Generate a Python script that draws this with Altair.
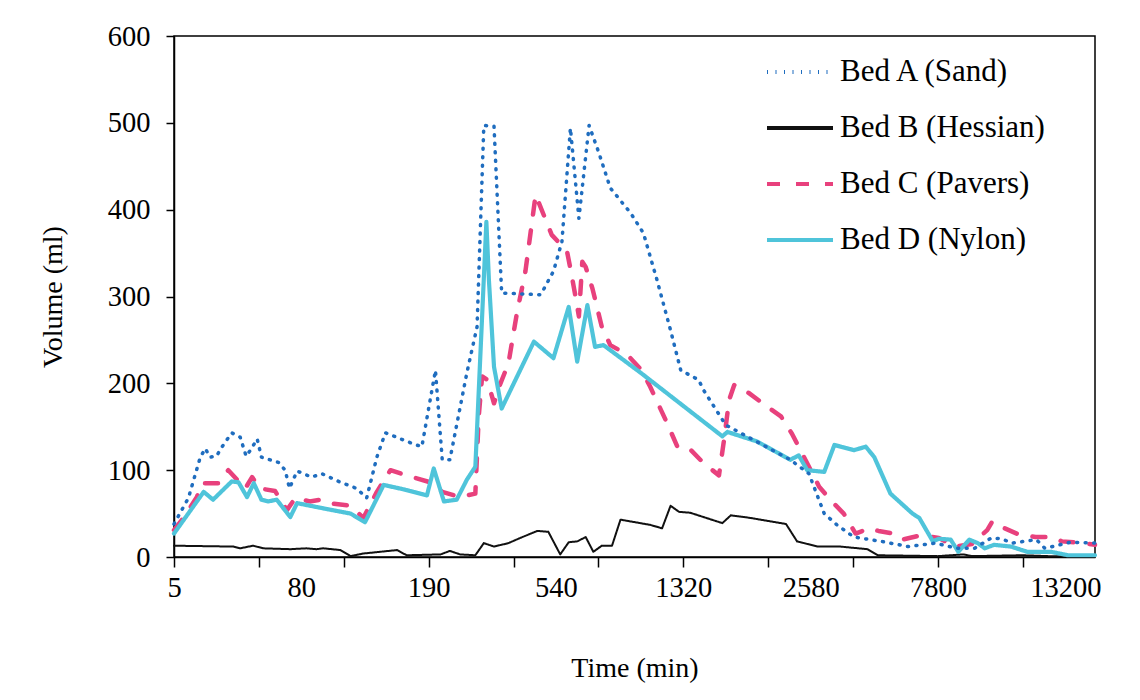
import altair as alt
import pandas as pd

# ---- data ----
TICK_LABELS = ["5", "80", "190", "540", "1320", "2580", "7800", "13200"]
LABEL_STEP = 15   # categories between labelled ticks
TICK_STEP = 10    # categories between tick marks

SERIES = ["Bed A (Sand)", "Bed B (Hessian)", "Bed C (Pavers)", "Bed D (Nylon)"]
COLORS = ["#1f6dbf", "#111111", "#e8417d", "#4fc4da"]

A_X = [0, 1.7, 3.1, 3.7, 4.2, 5.0, 5.6, 6.8, 7.8, 8.5, 9.0, 9.8, 10.3, 12.3, 13.1, 13.6, 14.5,
       16.2, 17.4, 19.4, 21.5, 22.7, 23.9, 24.9, 28.0, 29.2, 30.8, 31.6, 32.5, 34.5, 35.7, 36.5,
       37.7, 38.6, 43.2, 44.7, 45.7, 46.7, 47.7, 48.9, 50.0, 51.4, 53.8, 55.3, 56.9, 58.5, 59.7,
       61.8, 62.4, 65.0, 72.6, 74.8, 76.6, 78.1, 80.1, 83.3, 86.5, 89.7, 92.2, 94.3, 96.3, 97.5,
       98.7, 101.6, 102.6, 105.6, 108.5]
A_Y = [38, 68, 115, 125, 115, 116, 126, 143, 138, 116, 123, 136, 115, 109, 100, 79, 99,
       92, 96, 87, 79, 68, 115, 143, 131, 127, 215, 112, 112, 212, 265, 497,
       496, 304, 302, 329, 363, 494, 390, 497, 467, 425, 396, 373, 319, 261, 215,
       204, 192, 152, 112, 96, 50, 37, 23, 18, 12, 16, 10, 10, 22, 21,
       16, 20, 10, 17, 16]

B_X = [0, 7, 7.8, 9.3, 10.5, 13.7, 15.6, 16.8, 17.6, 19.6, 20.8, 22.3, 26.3, 27.4, 31.4, 32.5,
       33.7, 35.5, 36.5, 37.7, 39.4, 40.8, 42.8, 44.1, 45.5, 46.5, 47.5, 48.5, 49.4, 50.4, 51.6,
       52.6, 56.1, 57.5, 58.5, 59.5, 60.8, 64.6, 65.6, 67.9, 72.1, 73.4, 75.8, 78.5, 81.7, 82.9,
       90, 93, 94, 100, 103, 108.5]
B_Y = [13, 12, 10, 13, 10, 9, 10, 9, 10, 8, 1, 4, 8, 2, 3, 7,
       3, 2, 16, 12, 16, 22, 30, 29, 3, 17, 18, 23, 6, 13, 13,
       43, 37, 33, 59, 52, 51, 39, 48, 45, 38, 18, 12, 12, 9, 2,
       1, 3, 1, 2, 1, 1]

C_X = [0, 1.1, 2.7, 3.3, 5.2, 6.4, 8.0, 8.4, 9.2, 10.1, 11.9, 13.3, 14.3, 16.0, 17.2, 18.2,
       20.8, 22.3, 23.9, 25.5, 27.4, 30.2, 31.6, 33.7, 35.5, 35.9, 36.3, 36.9, 37.7, 38.3, 39.4,
       40.4, 41.4, 42.0, 42.6, 43.8, 44.5, 46.3, 46.7, 47.3, 47.7, 48.1, 48.5, 49.3, 50.4, 51.4,
       53.4, 55.1, 56.1, 58.1, 59.3, 60.7, 62.4, 64.2, 64.8, 65.4, 66.0, 67.7, 69.9, 71.5, 72.8,
       73.8, 76.0, 77.5, 78.9, 80.3, 81.9, 83.0, 84.8, 85.8, 88.0, 90.1, 92.0, 94.0, 95.8, 96.4,
       97.4, 99.5, 101.5, 103.3, 104.6, 107.1, 108.5]
C_Y = [31, 45, 69, 85, 85, 100, 83, 79, 92, 79, 76, 54, 68, 64, 66, 62,
       59, 45, 75, 100, 94, 86, 75, 69, 73, 162, 208, 204, 177, 196, 223,
       281, 329, 373, 417, 388, 371, 352, 332, 300, 277, 340, 334, 309, 265, 244,
       233, 215, 196, 154, 127, 125, 108, 94, 135, 181, 198, 189, 173, 162, 142,
       123, 81, 64, 50, 27, 33, 30, 27, 20, 25, 22, 12, 15, 31, 41,
       35, 26, 23, 23, 18, 16, 14]

D_X = [0, 3.5, 4.6, 6.8, 7.6, 8.6, 9.4, 10.3, 11.1, 12.1, 13.7, 14.5, 17.6, 20.8, 22.5, 24.7,
       27.0, 29.8, 30.6, 31.8, 33.3, 34.5, 35.5, 36.8, 37.1, 37.7, 38.6, 42.4, 44.7, 46.5, 47.5,
       48.7, 49.6, 50.6, 55.0, 64.6, 65.2, 68.7, 72.6, 73.6, 74.6, 76.6, 77.8, 80.1, 81.5, 82.5,
       84.4, 87.0, 87.8, 89.4, 90.1, 91.5, 92.4, 93.7, 94.7, 95.5, 96.6, 98.6, 100.5, 103.3,
       105.3, 108.5]
D_Y = [27, 75, 66, 87, 86, 69, 85, 66, 64, 66, 46, 62, 56, 50, 40, 83,
       78, 71, 102, 64, 66, 89, 104, 386, 319, 219, 171, 248, 229, 288, 225,
       290, 242, 244, 212, 139, 144, 133, 112, 117, 100, 98, 129, 123, 127, 115,
       73, 50, 45, 18, 21, 20, 6, 20, 16, 10, 14, 12, 6, 6,
       2, 2]

rows = []
for name, xs, ys in zip(SERIES, [A_X, B_X, C_X, D_X], [A_Y, B_Y, C_Y, D_Y]):
    for xv, yv in zip(xs, ys):
        rows.append({"series": name, "idx": xv, "volume": yv})
df = pd.DataFrame(rows)

FONT = "Liberation Serif"
N_LABELS = len(TICK_LABELS)
axis_values = sorted(set(range(0, LABEL_STEP * (N_LABELS - 1) + 1, LABEL_STEP))
                     | set(range(0, 101, TICK_STEP)))
js_labels = "[" + ",".join("'%s'" % t for t in TICK_LABELS) + "]"
label_expr = f"datum.value % {LABEL_STEP} === 0 ? {js_labels}[datum.value / {LABEL_STEP}] : ''"

x_enc = alt.X(
    "idx:Q",
    scale=alt.Scale(domain=[0, 108.5], nice=False, zero=False),
    axis=alt.Axis(
        title="Time (min)", values=axis_values, labelExpr=label_expr,
        tickOpacity={"condition": {"test": f"datum.value % {TICK_STEP} === 0", "value": 1}, "value": 0},
        tickSize=10, labelPadding=6, labelOverlap=False, labelFlush=False,
        titlePadding=53, grid=False,
    ),
)
y_enc = alt.Y(
    "volume:Q",
    scale=alt.Scale(domain=[0, 600], nice=False),
    axis=alt.Axis(title="Volume (ml)", values=[0, 100, 200, 300, 400, 500, 600],
                  tickSize=8, labelPadding=16, titlePadding=40, grid=False),
)
legend = alt.Legend(
    title=None, orient="none", legendX=591, legendY=1,
    symbolType="stroke", symbolSize=66 * 66, symbolStrokeWidth=4,
    labelFont=FONT, labelFontSize=31, labelColor="black", labelOffset=5,
    labelLimit=400, rowPadding=6,
)
color_enc = alt.Color("series:N", scale=alt.Scale(domain=SERIES, range=COLORS), legend=legend)
dash_enc = alt.StrokeDash(
    "series:N",
    scale=alt.Scale(domain=SERIES, range=[[1, 7.5], [1, 0], [13, 16], [1, 0]]),
    legend=legend,
)

base = alt.Chart(df).encode(x=x_enc, y=y_enc, color=color_enc, strokeDash=dash_enc, order="idx:Q")
widths = {"Bed B (Hessian)": 2, "Bed C (Pavers)": 4.5, "Bed D (Nylon)": 4.2, "Bed A (Sand)": 3.5}
layers = []
for name in ["Bed B (Hessian)", "Bed C (Pavers)", "Bed D (Nylon)", "Bed A (Sand)"]:
    layers.append(
        base.transform_filter(alt.datum.series == name)
        .mark_line(strokeWidth=widths[name], strokeCap="round", strokeJoin="round")
    )

chart = (
    alt.layer(*layers)
    .properties(width=921, height=521, autosize="none", background="white",
                padding={"left": 174, "top": 36, "right": 45, "bottom": 143})
    .configure_view(stroke="black", strokeWidth=1.5)
    .configure_axis(
        domainColor="black", domainWidth=1.5, tickColor="black", tickWidth=1.5,
        labelFont=FONT, labelFontSize=28.5, labelColor="black",
        titleFont=FONT, titleFontSize=28, titleColor="black", titleFontWeight="normal",
    )
)
chart.save("out.html", embed_options={"renderer": "svg", "actions": False})
